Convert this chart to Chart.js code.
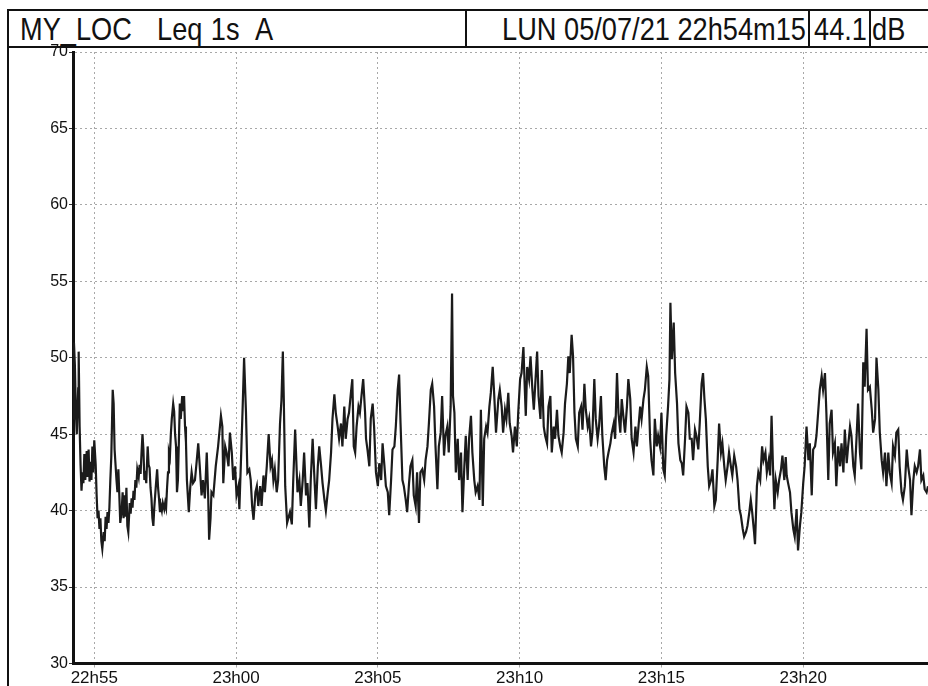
<!DOCTYPE html>
<html>
<head>
<meta charset="utf-8">
<script src="https://cdn.jsdelivr.net/npm/chart.js@4"></script>
<style>
  html, body { margin: 0; padding: 0; background: #fff; }
  body { width: 928px; height: 686px; overflow: hidden; position: relative; }
  .rule { position: absolute; background: #111; }
  .head { position: absolute; top: 13px; font-family: 'Liberation Sans', Arial, sans-serif;
          font-size: 32px; line-height: 32px; color: #111; white-space: pre;
          transform: scaleX(0.85); transform-origin: left top; }
  .head.r { transform-origin: right top; text-align: right; }
  #wrap { position: absolute; left: 0; top: 0; width: 928px; height: 700px; }
</style>
</head>
<body>
<div class="rule" style="left:7px; top:9px; width:2px; height:677px;"></div>
<div class="rule" style="left:7px; top:9px; width:921px; height:2px;"></div>
<div class="rule" style="left:7px; top:46px; width:921px; height:2px;"></div>
<div class="rule" style="left:465px; top:9px; width:2px; height:38px;"></div>
<div class="rule" style="left:808px; top:9px; width:2px; height:38px;"></div>
<div class="rule" style="left:869px; top:9px; width:2px; height:38px;"></div>

<div class="head" style="left:20px; word-spacing:1px;">MY_LOC   Leq 1s  A</div>
<div class="head r" style="left:300px; width:506px;">LUN 05/07/21 22h54m15</div>
<div class="head r" style="left:760px; width:107px;">44.1</div>
<div class="head" style="left:872px;">dB</div>

<div id="wrap"><canvas id="leq" width="928" height="700"></canvas></div>

<script>
// time of the first sample
const startClock = '22h54m15';

// x ticks, seconds after start
const tickSeconds = [45, 345, 645, 945, 1245, 1545];
const tickLabels = ['22h55', '23h00', '23h05', '23h10', '23h15', '23h20'];

// Leq 1s A (seconds after start / dB)
const seconds = [
    1, 2, 4, 6, 8, 11, 12, 14, 16, 18,
    20, 22, 24, 26, 29, 31, 33, 35, 37, 39,
    41, 43, 45, 48, 50, 52, 54, 56, 58, 60,
    62, 65, 67, 69, 71, 73, 75, 77, 79, 81,
    84, 86, 88, 90, 92, 94, 96, 98, 100, 103,
    105, 107, 109, 111, 113, 115, 117, 120, 122, 124,
    126, 128, 130, 132, 134, 136, 139, 141, 143, 145,
    147, 149, 151, 153, 155, 158, 160, 162, 164, 166,
    168, 170, 172, 175, 178, 180, 182, 184, 186, 188,
    190, 193, 195, 197, 199, 201, 203, 205, 207, 209,
    212, 214, 216, 218, 220, 222, 224, 226, 228, 231,
    233, 235, 237, 239, 241, 245, 248, 251, 254, 258,
    261, 265, 268, 272, 275, 279, 283, 286, 288, 291,
    293,
    297, 302, 307, 313, 316, 318, 322, 325, 329, 332,
    336, 339, 343, 346, 350, 352, 355, 359, 362, 366,
    369, 373, 376, 379, 382, 386, 389, 392, 396, 399,
    403, 406, 410, 414, 418, 421, 424, 427, 431, 434,
    438, 441, 444, 446, 449, 453, 459, 463, 466, 470,
    475, 479, 482, 486, 489, 493, 496, 500, 503, 507,
    511, 514, 518, 521, 525, 528, 532, 535, 539, 542,
    546, 549, 553, 556, 560, 563, 567, 570, 574, 577,
    581, 584, 588, 591, 594,
    597, 600, 604, 607, 611, 614, 618, 620, 623, 627,
    630, 634, 637, 641, 645, 648, 652, 655, 659, 662,
    666, 669, 673, 676, 680, 683, 687, 690, 693, 697,
    700, 704, 707, 711, 714, 718, 721, 725, 728, 732,
    735, 739, 743, 746, 750, 753, 757, 760, 764, 767,
    771, 774, 778, 781, 785, 788, 792, 795, 799, 802,
    804, 807, 810, 814, 817, 821, 824, 828, 831, 835,
    838, 842, 845, 849, 852, 856, 860, 863, 867, 870,
    874, 877, 881, 884, 888, 891, 895,
    900, 903, 907, 910, 914, 917, 921, 924, 928, 931,
    935, 939, 942, 946, 949, 953, 956, 958, 961, 965,
    968, 972, 975, 979, 982, 985, 989, 992, 996, 999,
    1003, 1006, 1010, 1013, 1017, 1020, 1024, 1027, 1031, 1034,
    1038, 1041, 1045, 1048, 1051, 1055, 1058, 1061, 1064, 1068,
    1071, 1075, 1078, 1082, 1085, 1089, 1092, 1096, 1099, 1103,
    1106, 1110, 1113, 1117, 1120, 1124, 1127, 1130, 1133, 1137,
    1140, 1144, 1147, 1151, 1154, 1158, 1161, 1165, 1168, 1172,
    1175, 1179, 1182, 1186, 1190, 1193, 1197, 1200,
    1203, 1207, 1210, 1214, 1217, 1221, 1224, 1228, 1231, 1235,
    1238, 1242, 1245, 1249, 1252, 1255, 1259, 1262, 1264, 1267,
    1271, 1274, 1278, 1281, 1285, 1288, 1291, 1295, 1298, 1302,
    1305, 1309, 1312, 1316, 1319, 1323, 1326, 1330, 1333, 1336,
    1339, 1343, 1346, 1350, 1353, 1357, 1360, 1364, 1367, 1371,
    1374, 1378, 1381, 1385, 1388, 1392, 1395, 1399, 1403, 1406,
    1410, 1413, 1417, 1420, 1424, 1427, 1431, 1434, 1437, 1441,
    1443, 1447, 1450, 1454, 1458, 1461, 1465, 1468, 1472, 1475,
    1478, 1481, 1484, 1487, 1491, 1494, 1498, 1501, 1505,
    1508, 1510, 1513, 1517, 1520, 1524, 1527, 1531, 1534, 1538,
    1541, 1545, 1548, 1552, 1556, 1559, 1563, 1566, 1570, 1573,
    1577, 1580, 1584, 1587, 1591, 1594, 1598, 1601, 1605, 1608,
    1612, 1615, 1619, 1623, 1626, 1630, 1633, 1637, 1640, 1644,
    1647, 1651, 1654, 1658, 1661, 1665, 1668, 1672, 1675, 1679,
    1682, 1686, 1690, 1693, 1697, 1700, 1704, 1707, 1711, 1714,
    1718, 1721, 1725, 1728, 1732, 1735, 1739, 1742, 1746, 1749,
    1753, 1756, 1760, 1764, 1767, 1771, 1774, 1778, 1781, 1785,
    1788, 1792, 1795, 1799, 1802, 1806, 1809, 1813
];

const levels = [
    46.0, 51.0, 49.5, 46.5, 45.0, 48.0, 50.4, 45.5, 43.0, 41.3,
    42.5, 41.8, 43.7, 42.0, 43.9, 42.2, 44.0, 41.9, 43.2, 42.0,
    44.2, 42.5, 44.6, 43.0, 41.0, 39.5, 40.0, 38.8, 39.5, 38.0,
    37.5, 38.6, 38.0, 39.6, 38.8, 39.9, 39.2, 40.2, 42.0, 43.5,
    47.9, 47.0, 44.0, 43.0, 42.0, 41.2, 42.7, 41.0, 39.2, 40.0,
    41.2, 39.5, 41.0, 39.6, 41.5, 39.0, 38.6, 40.5, 39.8, 40.8,
    40.2, 41.3, 40.7, 42.0, 41.5, 42.7, 42.2, 43.0, 42.4, 43.8,
    45.0, 44.0, 42.0, 42.6, 41.8, 44.2, 43.0, 42.8, 41.5, 40.8,
    39.5, 39.0, 40.2, 41.5, 42.7, 41.5, 40.8, 39.9, 40.3, 40.0,
    40.5, 40.1, 40.5, 40.2, 41.5, 42.5, 43.8, 43.5, 45.0, 46.0,
    47.0, 46.5, 45.0, 44.2, 41.2, 42.0, 44.5, 47.0, 46.0, 47.5,
    46.5, 47.5, 45.5, 44.5, 42.0, 39.9, 41.5, 42.5, 41.8, 42.0,
    43.0, 44.4, 43.0, 41.0, 42.0, 40.8, 43.8, 41.0, 38.1, 39.5,
    41.2,
    41.0, 42.9, 44.2, 46.2, 45.5, 41.8, 44.2, 43.8, 42.9, 45.1,
    43.8, 42.0, 42.9, 41.0, 41.6, 40.1, 42.9, 46.8, 50.0, 46.4,
    42.5, 42.7, 42.0, 40.3, 39.4, 41.2, 41.6, 40.3, 41.6, 40.3,
    42.3, 41.2, 42.9, 45.0, 42.9, 43.3, 42.0, 42.7, 41.2, 42.0,
    45.7, 47.2, 50.4, 47.3, 41.6, 39.2, 39.9, 39.1, 42.0, 45.3,
    41.2, 42.0, 40.3, 42.0, 43.8, 41.0, 41.8, 38.9, 42.0, 44.7,
    42.0, 40.1, 42.9, 44.2, 42.9, 41.8, 40.7, 40.0, 41.2, 42.0,
    43.8, 46.0, 47.6, 46.4, 45.5, 44.7, 45.7, 44.2, 46.8, 44.7,
    46.0, 46.4, 47.7, 48.6, 44.2,
    43.8, 45.5, 46.8, 46.4, 47.7, 48.6, 46.4, 44.7, 44.0, 42.9,
    46.0, 47.0, 45.5, 42.5, 41.6, 43.1, 42.0, 44.4, 42.9, 41.6,
    41.2, 39.7, 42.0, 44.0, 44.2, 45.5, 47.9, 48.9, 45.7, 42.0,
    41.6, 40.7, 39.9, 41.8, 42.9, 43.3, 41.0, 40.3, 42.5, 39.2,
    42.5, 42.7, 42.0, 43.3, 44.2, 45.7, 47.9, 48.3, 46.8, 44.2,
    41.4, 44.2, 45.1, 47.5, 43.6, 44.9, 45.5, 43.8, 46.8, 54.2,
    47.5, 46.4, 42.5, 44.7, 42.0, 43.8, 39.9, 42.9, 44.9, 42.0,
    44.7, 46.2, 43.8, 42.0, 41.2, 41.6, 40.7, 46.6, 40.3, 44.7,
    45.5, 45.1, 46.8, 47.7, 49.4, 47.7, 45.1,
    47.3, 47.9, 46.8, 45.1, 46.6, 46.0, 47.7, 45.7, 44.9, 43.8,
    45.5, 44.2, 46.4, 48.6, 49.0, 50.7, 47.9, 46.2, 49.4, 48.6,
    50.1, 47.9, 46.6, 48.8, 50.4, 47.5, 46.0, 49.2, 45.5, 44.9,
    44.4, 46.8, 47.5, 43.8, 45.5, 44.7, 46.6, 44.9, 44.2, 43.8,
    45.1, 47.0, 48.3, 50.1, 49.0, 51.5, 50.1, 46.4, 44.7, 44.2,
    46.4, 46.8, 45.3, 48.3, 46.6, 45.5, 46.0, 44.2, 45.1, 48.6,
    46.0, 44.7, 45.5, 47.5, 44.9, 42.9, 42.0, 43.3, 43.8, 44.4,
    45.1, 45.7, 44.7, 49.0, 46.4, 45.1, 47.3, 46.0, 45.1, 46.8,
    48.6, 47.3, 44.7, 43.8, 45.5, 44.2, 45.7, 46.8,
    46.0, 47.3, 47.9, 49.4, 48.8, 44.7, 43.3, 42.3, 46.0, 44.2,
    44.9, 44.2, 46.4, 42.7, 42.3, 44.9, 46.8, 48.6, 53.6, 49.9,
    52.3, 49.0, 47.0, 44.4, 43.3, 43.1, 42.3, 44.7, 46.8, 46.4,
    44.7, 44.7, 43.3, 45.3, 44.9, 44.0, 45.7, 48.3, 49.0, 47.3,
    46.0, 42.9, 41.6, 42.0, 42.7, 40.3, 40.7, 43.3, 45.7, 43.8,
    44.4, 42.9, 42.0, 42.9, 43.8, 42.9, 42.3, 43.6, 42.9, 42.0,
    40.1, 39.7, 38.8, 38.3, 38.6, 39.0, 39.9, 40.7, 39.9, 38.6,
    37.8, 41.6, 42.5, 42.0, 44.2, 43.3, 43.8, 42.5, 43.3, 42.3,
    46.2, 42.9, 40.1, 42.0, 41.2, 42.0, 42.7, 43.6, 42.0,
    43.5, 42.3, 41.8, 41.2, 39.9, 38.8, 38.3, 40.1, 37.4, 39.0,
    39.9, 41.8, 42.9, 45.5, 43.3, 44.4, 41.0, 44.0, 44.2, 44.9,
    46.6, 47.9, 48.8, 47.9, 49.0, 46.4, 42.0, 45.7, 46.6, 43.8,
    44.4, 41.6, 44.2, 42.9, 44.4, 42.5, 45.3, 43.1, 44.2, 45.5,
    44.9, 42.9, 42.3, 44.9, 47.0, 43.8, 42.7, 49.7, 48.1, 51.9,
    47.9, 48.1, 46.6, 45.1, 46.0, 50.0, 47.9, 45.1, 43.3, 42.5,
    43.8, 41.6, 43.8, 42.5, 41.8, 44.2, 43.6, 45.1, 45.3, 42.9,
    41.2, 40.7, 41.6, 44.0, 42.9, 42.0, 39.7, 42.0, 42.9, 42.5,
    42.9, 44.0, 42.0, 42.3, 41.4, 41.2, 41.6, 42.0
];

const yMin = 30, yMax = 70, yStep = 5;
const xEnd = 1809;

const points = seconds.map((s, i) => ({ x: s, y: levels[i] }));

const tickFont = { family: "'Liberation Sans', Arial, sans-serif", size: 16 };

new Chart(document.getElementById('leq').getContext('2d'), {
    type: 'line',
    data: {
        datasets: [{
            data: points,
            borderColor: '#1b1b1b',
            borderWidth: 2.2,
            pointRadius: 0,
            tension: 0,
            fill: false
        }]
    },
    options: {
        responsive: false,
        animation: false,
        layout: { padding: { top: 52, left: 0, right: 0, bottom: 0 } },
        plugins: { legend: { display: false }, tooltip: { enabled: false } },
        scales: {
            x: {
                type: 'linear',
                min: 0,
                max: xEnd,
                afterBuildTicks: scale => { scale.ticks = tickSeconds.map(v => ({ value: v })); },
                afterFit: scale => { scale.height = 36.5; },
                ticks: {
                    autoSkip: false,
                    maxRotation: 0,
                    padding: 1,
                    color: '#111',
                    font: { ...tickFont, size: 17 },
                    callback: v => tickLabels[tickSeconds.indexOf(v)]
                },
                grid: { color: '#a8a8a8', lineWidth: 1, tickLength: 4, tickColor: '#a8a8a8' },
                border: { display: true, color: '#111', width: 3, dash: [2, 3] }
            },
            y: {
                min: yMin,
                max: yMax,
                afterFit: scale => { scale.width = 73; },
                ticks: { stepSize: yStep, padding: 1, color: '#111', font: tickFont },
                grid: { color: '#a8a8a8', lineWidth: 1, tickLength: 4, tickColor: '#333' },
                border: { display: true, color: '#111', width: 3, dash: [2, 3] }
            }
        }
    }
});
</script>
</body>
</html>
